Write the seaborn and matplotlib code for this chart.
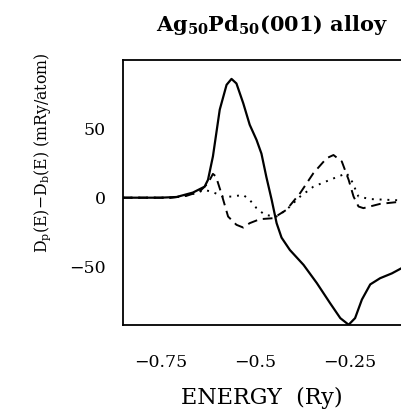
import matplotlib
matplotlib.use("Agg")
import matplotlib.pyplot as plt
import seaborn as sns
import numpy as np

sns.set_theme(style="white")
plt.rcParams['font.family'] = ['DejaVu Serif']
plt.rcParams['mathtext.fontset'] = 'dejavuserif'

# Total (solid)
solid_x = [-0.85, -0.75, -0.708, -0.665, -0.634, -0.625, -0.612, -0.594, -0.576, -0.563,
           -0.550, -0.532, -0.515, -0.497, -0.484, -0.471, -0.457, -0.444, -0.431, -0.409,
           -0.373, -0.338, -0.303, -0.276, -0.254, -0.237, -0.219, -0.197, -0.171, -0.140, -0.113]
solid_y = [0.0, 0.0, 0.5, 3.7, 8.0, 13.0, 30.0, 64.0, 82.0, 86.3,
           83.0, 68.6, 53.0, 42.0, 32.0, 15.0, -1.6, -18.5, -29.0, -38.0,
           -48.8, -62.0, -76.6, -87.5, -92.3, -87.5, -74.0, -63.0, -58.5, -55.0, -51.0]

# dashed
dash_x = [-0.85, -0.72, -0.68, -0.647, -0.625, -0.612, -0.604, -0.590, -0.572, -0.550,
          -0.532, -0.515, -0.488, -0.453, -0.418, -0.382, -0.347, -0.312, -0.294, -0.272,
          -0.254, -0.241, -0.228, -0.215, -0.171, -0.113]
dash_y = [0.0, 0.0, 1.5, 4.5, 10.5, 17.3, 15.4, 3.3, -13.7, -19.7,
          -21.7, -18.5, -15.6, -14.9, -8.8, 3.3, 17.8, 28.7, 31.0, 26.3,
          13.0, 0.8, -6.4, -7.6, -4.5, -2.8]

# dotted
dot_x = [-0.85, -0.72, -0.68, -0.650, -0.634, -0.612, -0.585, -0.563, -0.532, -0.515,
         -0.497, -0.475, -0.444, -0.418, -0.382, -0.347, -0.294, -0.259, -0.245, -0.228,
         -0.197, -0.113]
dot_y = [0.0, 0.0, 1.5, 4.0, 5.7, 4.0, 0.8, 0.8, 2.0, -1.6,
         -7.6, -12.5, -13.7, -8.8, 0.8, 8.0, 14.0, 17.8, 11.7, 0.8,
         -1.0, -2.0]

fig = plt.figure(figsize=(4.01, 4.17), dpi=100)
ax = fig.add_axes([0.306, 0.2206, 0.709, 0.6354])

sns.lineplot(x=solid_x, y=solid_y, ax=ax, color='black', lw=1.6, sort=False)
sns.lineplot(x=dash_x, y=dash_y, ax=ax, color='black', lw=1.4, sort=False,
             linestyle=(0, (5, 3)))
sns.lineplot(x=dot_x, y=dot_y, ax=ax, color='black', lw=1.4, sort=False,
             linestyle=(0, (1, 3)))

ax.set_xlim(-0.85, -0.1)
ax.set_ylim(-92.5, 100)
ax.set_xticks([-0.75, -0.5, -0.25])
ax.set_xticklabels(['\u22120.75', '\u22120.5', '\u22120.25'])
ax.set_yticks([-50, 0, 50])
ax.set_yticklabels(['\u221250', '0', '50'])
ax.tick_params(axis='both', direction='in', length=7, width=1.0, colors='black', labelsize=12.5)
ax.tick_params(axis='x', pad=21)
ax.tick_params(axis='y', pad=12)
for s in ['left', 'top', 'bottom']:
    ax.spines[s].set_color('black')
    ax.spines[s].set_linewidth(1.3)
ax.spines['right'].set_visible(False)

ax.set_xlabel('ENERGY  (Ry)', fontsize=16, color='black')
ax.xaxis.set_label_coords(0.49, -0.232)
ax.set_ylabel(r'D$_\mathrm{p}$(E)$-$D$_\mathrm{b}$(E) (mRy/atom)', fontsize=11.3, color='black')
ax.yaxis.set_label_coords(-0.245, 0.65)
ax.set_title(r'$\mathbf{Ag_{50}Pd_{50}}$(001) alloy', fontsize=15, fontweight='bold', pad=21,
             color='black', x=0.525)

fig.savefig('out.png', dpi=100)
